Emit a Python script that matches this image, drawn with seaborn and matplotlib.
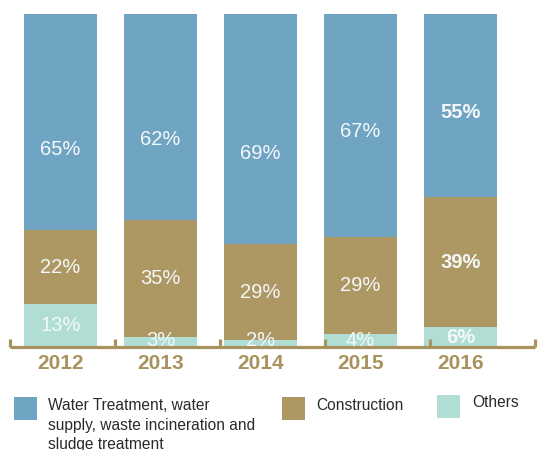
import numpy as np
import pandas as pd
import matplotlib
matplotlib.use("Agg")
import matplotlib.pyplot as plt
from matplotlib.patches import Rectangle
import seaborn as sns

years = ["2012", "2013", "2014", "2015", "2016"]
water = [65, 62, 69, 67, 55]
construction = [22, 35, 29, 29, 39]
others = [13, 3, 2, 4, 6]
legend_labels = ["Water Treatment, water\nsupply, waste incineration and\nsludge treatment",
                 "Construction", "Others"]

# layout (label heights for top segment, in % units)
water_label_y = [59.2, 62.2, 58.0, 64.6, 70.3]

C_BLUE = "#70a4c3"
C_TAN = "#ad9763"
C_MINT = "#b0ded4"
C_AXIS = "#a8925e"

sns.set_style("white")
plt.rcParams["font.family"] = ["Liberation Sans", "DejaVu Sans"]

W, H = 547, 450
fig = plt.figure(figsize=(W / 100, H / 100), dpi=100)
ax = fig.add_axes([0, (H - 347) / H, 1, 333 / H])

df = pd.DataFrame({"year": years,
                   "total": np.array(water) + np.array(construction) + np.array(others),
                   "low2": np.array(construction) + np.array(others),
                   "low1": others})

for col, c in [("total", C_BLUE), ("low2", C_TAN), ("low1", C_MINT)]:
    sns.barplot(data=df, x="year", y=col, order=years, color=c, width=0.73,
                errorbar=None, linewidth=0, saturation=1, ax=ax)

ax.set_xlim(-0.605, 4.865)
ax.set_ylim(0, 100)
ax.set_xlabel("")
ax.set_ylabel("")
ax.set_xticks([])
ax.set_yticks([])
for s in ax.spines.values():
    s.set_visible(False)

# percentage labels
for i in range(5):
    wt = "bold" if i == 4 else "normal"
    fs = 14.5
    ax.text(i, water_label_y[i], f"{water[i]}%", ha="center", va="center",
            color="#f4f8fa", fontsize=fs, fontweight=wt)
    ax.text(i, others[i] + construction[i] / 2, f"{construction[i]}%", ha="center",
            va="center", color="#f4f8fa", fontsize=fs, fontweight=wt)
    ax.text(i, others[i] / 2 if others[i] > 5 else 1.9, f"{others[i]}%", ha="center",
            va="center", color="#f4f8fa", fontsize=fs, fontweight=wt, clip_on=False)
    ax.text(i, -4.9, years[i], ha="center", va="center", color=C_AXIS,
            fontsize=15, fontweight="bold", clip_on=False)

# baseline with upward ticks
ticks_x = np.linspace(-0.505, 4.745, 6)
ax.plot([ticks_x[0], ticks_x[-1]], [-0.15, -0.15], color=C_AXIS, lw=2.3,
        clip_on=False, solid_capstyle="butt")
for tx in ticks_x:
    ax.plot([tx, tx], [-0.15, 2.5], color=C_AXIS, lw=2.3, clip_on=False,
            solid_capstyle="butt")

# legend drawn manually
def px(x, y):
    return x / W, 1 - y / H

items = [(14, 397, 48, 398, C_BLUE, legend_labels[0]),
         (282, 397, 316, 398, C_TAN, legend_labels[1]),
         (437, 395, 472, 395, C_MINT, legend_labels[2])]
for sx, sy, tx, ty, c, lab in items:
    x0, y0 = px(sx, sy + 23)
    fig.patches.append(Rectangle((x0, y0), 23 / W, 23 / H, transform=fig.transFigure,
                                 facecolor=c, edgecolor="none"))
    fx, fy = px(tx, ty)
    fig.text(fx, fy, lab, ha="left", va="top", fontsize=11.2, color="#2a2a2a",
             linespacing=1.38)

fig.savefig("out.png", dpi=100)
